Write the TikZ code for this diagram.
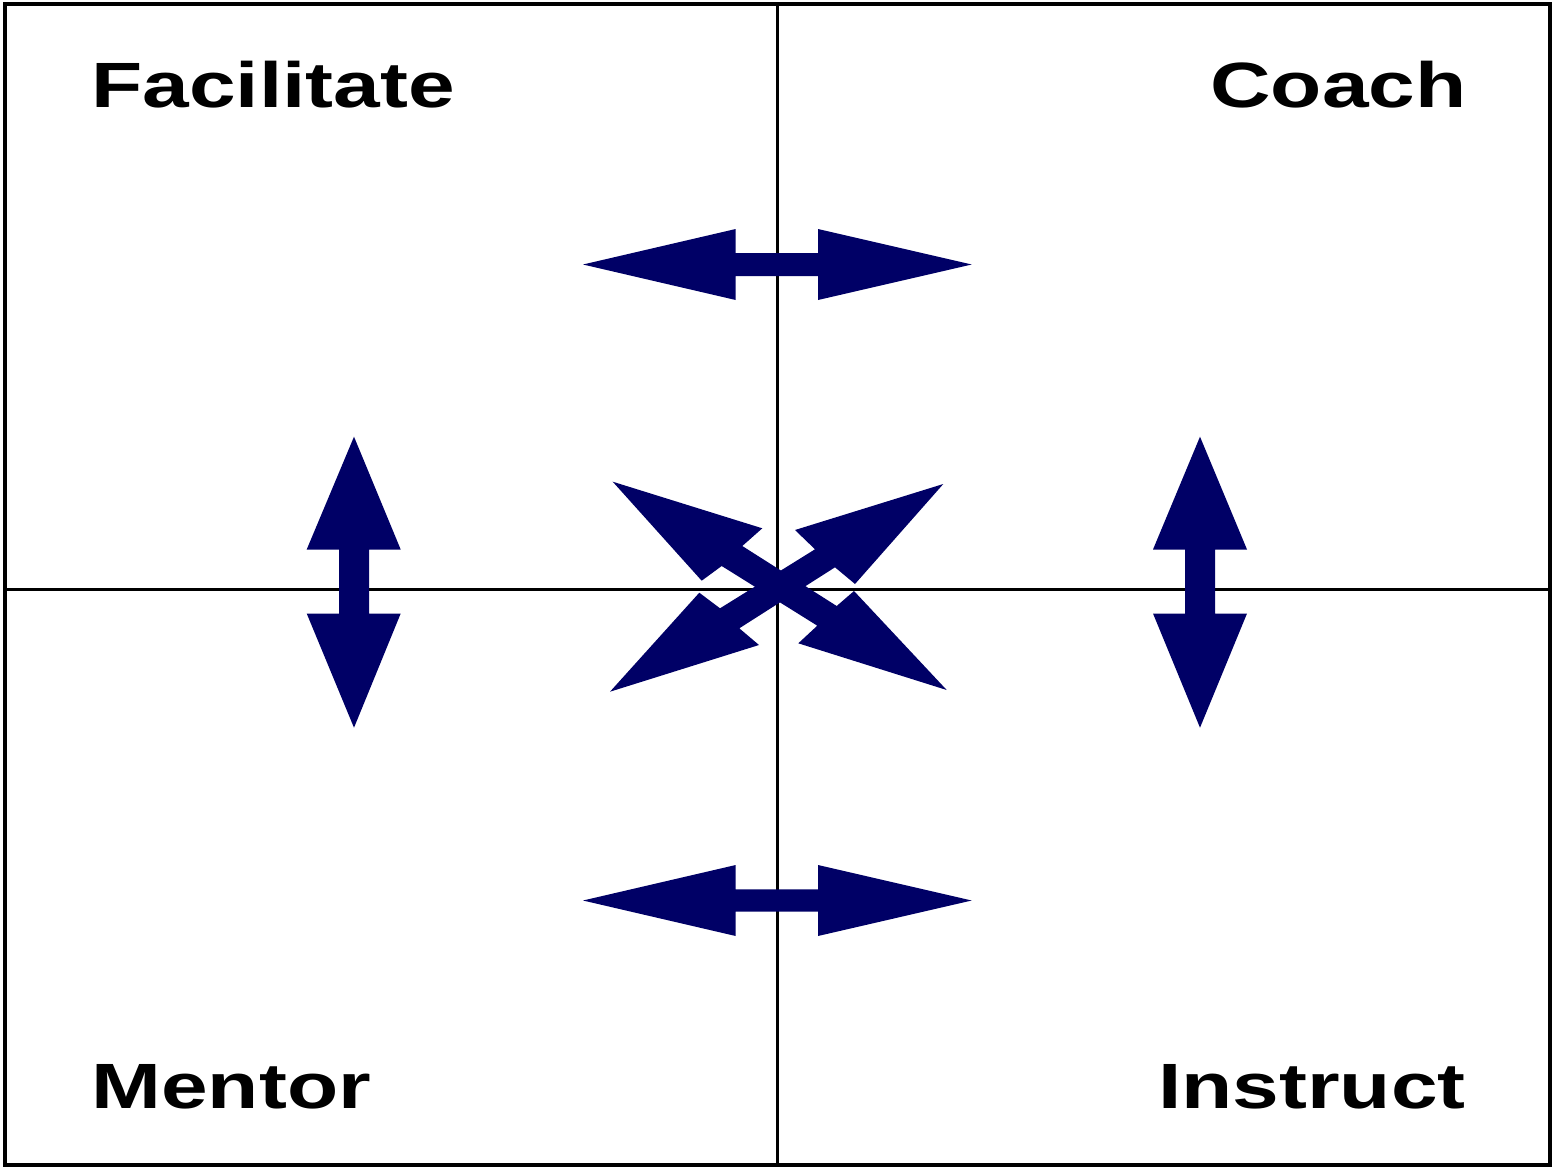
\documentclass[tikz,border=0pt]{standalone}
\usepackage{fontspec}
\setmainfont{Liberation Sans}
\definecolor{arrownavy}{RGB}{0,0,102}
\tikzset{
  frameline/.style={draw=black, line width=2pt},
  gridline/.style={draw=black, line width=1.5pt},
  bigarrow/.style={fill=arrownavy, draw=none},
  label/.style={inner sep=0pt, font=\fontsize{32}{36}\selectfont\bfseries}
}
\newcommand{\widetext}[1]{\scalebox{1.31}[1]{#1}}
\begin{document}
\begin{tikzpicture}[x=0.5pt, y=-0.5pt]
\useasboundingbox (0,0) rectangle (1552,1167);
\fill[white] (0,0) rectangle (1552,1167);
% grid lines
\draw[gridline] (777,3) -- (777,1166);
\draw[gridline] (5,589) -- (1549,589);
% frame
\draw[frameline] (4.5,3.5) rectangle (1549.5,1165);
% top horizontal double arrow
\fill[bigarrow] (583,264.5) -- (735.7,229) -- (735.7,253) -- (818,253) -- (818,229)
  -- (971.7,264.5) -- (818,300) -- (818,276) -- (735.7,276) -- (735.7,300) -- cycle;
% bottom horizontal double arrow
\fill[bigarrow] (583,900.5) -- (735.7,865) -- (735.7,889.3) -- (818,889.3) -- (818,865)
  -- (971.7,900.5) -- (818,936) -- (818,911.7) -- (735.7,911.7) -- (735.7,936) -- cycle;
% left vertical double arrow
\fill[bigarrow] (354,436.7) -- (400.7,549.5) -- (369,549.5) -- (369,613.5) -- (400.7,613.5)
  -- (354,727.7) -- (306.7,613.5) -- (339,613.5) -- (339,549.5) -- (306.7,549.5) -- cycle;
% right vertical double arrow
\fill[bigarrow] (1200,436.7) -- (1247,549.5) -- (1215,549.5) -- (1215,613.5) -- (1247,613.5)
  -- (1200,727.7) -- (1153,613.5) -- (1185,613.5) -- (1185,549.5) -- (1153,549.5) -- cycle;
% diagonal NW-SE
\fill[bigarrow] (612.7,481.7) -- (762.3,528.3) -- (742.3,546) -- (836.7,606) -- (854,591)
  -- (946.7,690) -- (798.3,643.3) -- (817.3,625.7) -- (721.7,566) -- (701.7,580.7) -- cycle;
% diagonal SW-NE
\fill[bigarrow] (610,691.7) -- (759,645) -- (739.3,628.3) -- (835,567.3) -- (855,584)
  -- (943.3,484) -- (795,530) -- (815,549.3) -- (720,608.3) -- (699.3,592.7) -- cycle;
% labels
\node[label, anchor=base west] (facilitate) at (91,107) {\widetext{Facilitate}};
\node[label, anchor=base east] (coach) at (1467,107) {\widetext{Coach}};
\node[label, anchor=base west] (mentor) at (91,1108) {\widetext{Mentor}};
\node[label, anchor=base east] (instruct) at (1466,1108) {\widetext{Instruct}};
\end{tikzpicture}
\end{document}
